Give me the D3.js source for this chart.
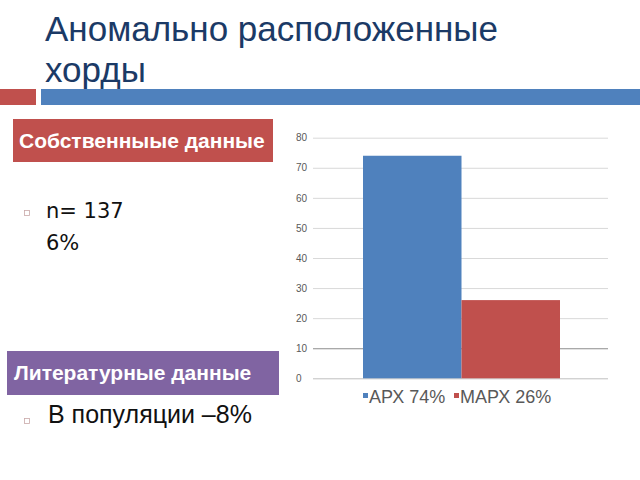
<!DOCTYPE html>
<html><head><meta charset="utf-8">
<script src="https://cdn.jsdelivr.net/npm/d3@7"></script>
<style>body{margin:0;background:#fff}svg{display:block}</style>
</head><body>
<script>
const titleLines = ["Аномально расположенные", "хорды"];
const ownHeader = "Собственныые данные";
const ownLines = ["n= 137", "6%"];
const litHeader = "Литературные данные";
const litLines = ["В популяции –8%"];
const series = ["АРХ 74%", "МАРХ 26%"];
const values = [74, 26];
const colors = ["#4f81bd", "#c0504d"];
const yTicks = [0, 10, 20, 30, 40, 50, 60, 70, 80];

const svg = d3.select("body").append("svg").attr("width", 640).attr("height", 480);
svg.append("rect").attr("width", 640).attr("height", 480).attr("fill", "#fff");

// Title
const title = svg.append("text").attr("fill", "#1b3a66")
  .style("font-family", "'Liberation Sans', Arial, sans-serif").style("font-size", "35px");
titleLines.forEach((t, i) => title.append("tspan").attr("x", 45).attr("y", 41 + i * 41).text(t));

// decorative bars
svg.append("rect").attr("x", 0).attr("y", 89).attr("width", 36).attr("height", 16).attr("fill", "#c0504d");
svg.append("rect").attr("x", 41).attr("y", 89).attr("width", 599).attr("height", 16).attr("fill", "#4f81bd");

// header boxes
function header(x, y, w, h, fill, txt, tx) {
  svg.append("rect").attr("x", x).attr("y", y).attr("width", w).attr("height", h).attr("fill", fill);
  svg.append("text").attr("x", tx).attr("y", y + h / 2 + 7).attr("fill", "#fff")
    .style("font-family", "'Liberation Sans', Arial, sans-serif").style("font-weight", "bold")
    .style("font-size", "21px").text(txt);
}
header(13, 119, 260, 43, "#c0504d", ownHeader, 19);
header(7, 351, 272, 44, "#8064a2", litHeader, 14);

// bullets
function bullet(x, y) {
  svg.append("rect").attr("x", x).attr("y", y).attr("width", 5).attr("height", 5)
    .attr("fill", "none").attr("stroke", "#c9a9a9").attr("stroke-width", 0.8);
}
bullet(24.5, 210.5);
const own = svg.append("text").attr("fill", "#111")
  .style("font-family", "'DejaVu Sans', sans-serif").style("font-size", "21px");
ownLines.forEach((t, i) => own.append("tspan").attr("x", 46).attr("y", 218 + i * 32).text(t));

bullet(24.5, 418.5);
svg.append("text").attr("x", 48).attr("y", 423).attr("fill", "#111")
  .style("font-family", "'Liberation Sans', Arial, sans-serif").style("font-size", "25px").text(litLines[0]);

// chart
const y = d3.scaleLinear().domain([0, 80]).range([378.3, 137.7]);
const x = d3.scaleBand().domain(series).range([363, 560]).padding(0);
const gridL = 313, gridR = 608;

const g = svg.append("g");
const axis = g.append("g").attr("transform", `translate(${gridR},0)`)
  .call(d3.axisLeft(y).tickValues(yTicks).tickSize(gridR - gridL).tickFormat(d3.format("d")));
axis.select(".domain").remove();
axis.selectAll(".tick line").attr("stroke", d => d === 10 ? "#8c8c8c" : (d === 0 ? "#bfbfbf" : "#d9d9d9"))
  .attr("stroke-width", d => d === 10 ? 1.2 : 1);
axis.selectAll(".tick text").attr("x", -(gridR - 296)).attr("text-anchor", "start")
  .attr("fill", "#595959").style("font-family", "'Liberation Sans', Arial, sans-serif").style("font-size", "10px");

g.selectAll("rect.bar").data(values).join("rect").attr("class", "bar")
  .attr("x", (d, i) => x(series[i])).attr("width", x.bandwidth())
  .attr("y", d => y(d)).attr("height", d => y(0) - y(d))
  .attr("fill", (d, i) => colors[i]);

// legend
const legX = [363, 454];
series.forEach((s, i) => {
  svg.append("rect").attr("x", legX[i]).attr("y", 393).attr("width", 5).attr("height", 5).attr("fill", colors[i]);
  svg.append("text").attr("x", legX[i] + 6).attr("y", 403).attr("fill", "#595959")
    .style("font-family", "'Liberation Sans', Arial, sans-serif").style("font-size", "18px").text(s);
});
</script>
</body></html>
